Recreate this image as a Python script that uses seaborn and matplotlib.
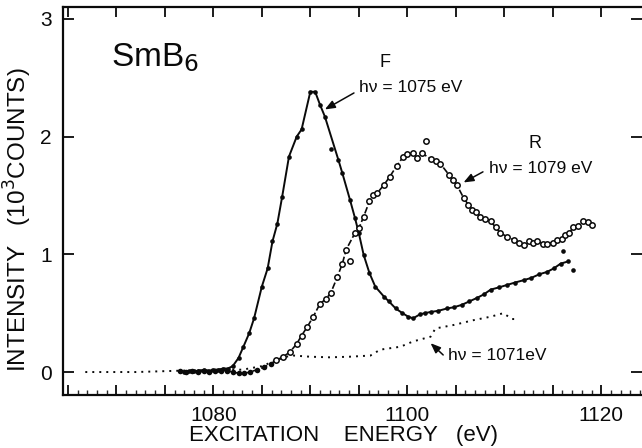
import numpy as np
import pandas as pd
import matplotlib
matplotlib.use("Agg")
import matplotlib.pyplot as plt
from matplotlib.ticker import MultipleLocator, FixedLocator, FuncFormatter
import seaborn as sns

sns.set_theme(style="ticks")
plt.rcParams["font.family"] = ["Liberation Sans", "DejaVu Sans"]

# ---- data (energy in eV, intensity in 10^3 counts) ----
F_E = [1076.6, 1077.0, 1077.5, 1078.0, 1078.5, 1079.0, 1079.5, 1080.0, 1080.5, 1081.0,
       1081.5, 1082.0, 1082.6, 1083.1, 1083.7, 1084.2, 1085.0, 1085.6, 1086.1, 1086.6,
       1087.1, 1087.8, 1088.6, 1089.1, 1090.0, 1090.5, 1091.0, 1091.5, 1092.9,
       1093.3, 1094.1, 1094.6, 1095.0, 1095.5, 1096.1, 1096.7, 1097.6, 1098.1, 1098.8,
       1099.5, 1100.1, 1100.6, 1101.3, 1101.8, 1102.4, 1103.2, 1104.1, 1104.8, 1105.6,
       1106.4, 1107.2, 1107.9, 1108.6, 1109.5, 1110.3, 1111.1, 1112.0, 1112.8, 1113.6,
       1114.4, 1115.1, 1115.8, 1116.6]
F_I = [0.01, 0.00, 0.01, 0.01, 0.01, 0.02, 0.01, 0.02, 0.02, 0.03,
       0.03, 0.05, 0.12, 0.215, 0.33, 0.456, 0.725, 0.88, 1.11, 1.26,
       1.49, 1.83, 2.00, 2.06, 2.38, 2.38, 2.27, 2.17, 1.80,
       1.69, 1.46, 1.31, 1.18, 0.995, 0.84, 0.725, 0.64, 0.60, 0.54,
       0.50, 0.47, 0.456, 0.49, 0.50, 0.51, 0.52, 0.54, 0.55, 0.57,
       0.60, 0.63, 0.66, 0.70, 0.72, 0.74, 0.76, 0.78, 0.80, 0.83,
       0.85, 0.88, 0.92, 0.94]
F_out_E = [1092.1, 1116.1, 1117.1]
F_out_I = [1.89, 1.03, 0.87]

R_E = [1076.6, 1077.2, 1077.8, 1078.4, 1079.0, 1079.6, 1080.2, 1080.8, 1081.4, 1082.0,
       1082.6, 1083.2, 1083.8, 1084.5, 1085.2, 1085.9, 1086.5, 1087.2, 1087.9, 1088.6,
       1089.1, 1089.7, 1090.3, 1091.0, 1091.6, 1092.1, 1092.8, 1093.3, 1093.7, 1094.6,
       1095.0, 1095.5, 1096.1, 1096.5, 1096.9, 1097.6, 1098.2, 1098.9, 1099.6, 1100.0,
       1100.6, 1101.0, 1101.5, 1102.4, 1103.0, 1103.4, 1104.3, 1104.7, 1105.1, 1105.8,
       1106.3, 1106.7, 1107.1, 1107.5, 1108.0, 1108.6, 1109.1, 1109.6, 1110.3, 1111.0,
       1111.5, 1112.0, 1112.5, 1113.0, 1113.4, 1114.0, 1114.4, 1115.0, 1115.4, 1115.9,
       1116.3, 1116.7, 1117.1, 1117.6, 1118.1, 1118.6, 1119.0]
R_I = [0.01, 0.00, 0.01, 0.00, 0.01, 0.00, 0.01, 0.01, 0.01, 0.00,
       -0.01, -0.01, 0.00, 0.02, 0.04, 0.07, 0.10, 0.13, 0.17, 0.24,
       0.31, 0.385, 0.47, 0.58, 0.62, 0.67, 0.81, 0.92, 1.04, 1.18,
       1.22, 1.32, 1.45, 1.50, 1.52, 1.59, 1.66, 1.75, 1.83, 1.85,
       1.86, 1.82, 1.86, 1.81, 1.79, 1.77, 1.675, 1.63, 1.59, 1.48,
       1.42, 1.38, 1.36, 1.32, 1.30, 1.28, 1.23, 1.18, 1.15, 1.12,
       1.10, 1.08, 1.11, 1.10, 1.11, 1.09, 1.09, 1.10, 1.12, 1.13,
       1.165, 1.18, 1.23, 1.24, 1.28, 1.27, 1.25]
R_out_E = [1094.1, 1101.9]
R_out_I = [0.94, 1.96]

D_E = [1066.8, 1072.0, 1076.0, 1080.0, 1083.0, 1085.0, 1086.5, 1087.5, 1088.3, 1090.0,
       1092.0, 1094.0, 1096.2, 1097.2, 1099.3, 1100.6, 1102.4, 1102.9, 1104.8, 1106.8,
       1108.6, 1109.9, 1110.8, 1111.2]
D_I = [0.00, 0.00, 0.01, 0.02, 0.02, 0.05, 0.10, 0.13, 0.14, 0.13,
       0.125, 0.13, 0.14, 0.19, 0.215, 0.26, 0.30, 0.37, 0.40, 0.44,
       0.47, 0.50, 0.45, 0.45]

x_labels = [1080, 1100, 1120]
y_labels = [0, 1, 2, 3]

F = pd.DataFrame({"E": F_E, "I": F_I})
R = pd.DataFrame({"E": R_E, "I": R_I})
D = pd.DataFrame({"E": D_E, "I": D_I})

W, H = 642, 448
fig = plt.figure(figsize=(W / 100, H / 100), dpi=100)
ax = fig.add_axes([63 / W, 1 - 395 / H, (W - 63) / W, (395 - 7) / H])

ink = "#0a0a0a"
# dotted curve hv = 1071 eV
sns.lineplot(data=D, x="E", y="I", ax=ax, color=ink, lw=1.4, sort=False,
             estimator=None, linestyle=(0, (1, 2.6)))
# F curve
sns.lineplot(data=F, x="E", y="I", ax=ax, color=ink, lw=1.4, sort=False, estimator=None)
sns.scatterplot(data=F, x="E", y="I", ax=ax, color=ink, s=11, linewidth=0, zorder=4)
ax.scatter(F_out_E, F_out_I, color=ink, s=11, linewidth=0, zorder=4)
# R curve
sns.lineplot(data=R, x="E", y="I", ax=ax, color=ink, lw=1.2, sort=False, estimator=None,
             linestyle=(0, (4, 1.5)))
base = R[R["E"] < 1086]
rest = R[R["E"] >= 1086]
sns.scatterplot(data=base, x="E", y="I", ax=ax, color=ink, s=16, linewidth=0, zorder=5)
sns.scatterplot(data=rest, x="E", y="I", ax=ax, facecolor="white", edgecolor=ink, s=15,
                linewidth=1.1, zorder=5)
ax.scatter(R_out_E, R_out_I, facecolor="white", edgecolor=ink, s=15, linewidth=1.1, zorder=5)

ax.set_xlim(1064.5, 1124.2)
ax.set_ylim(-0.195, 3.1)

# ticks
ax.xaxis.set_major_locator(MultipleLocator(5))
ax.xaxis.set_minor_locator(MultipleLocator(1))
ax.xaxis.set_major_formatter(FuncFormatter(lambda v, p: f"{int(round(v))}" if int(round(v)) in x_labels else ""))
ax.yaxis.set_major_locator(FixedLocator(y_labels))
ax.set_yticklabels([str(v) for v in y_labels])
ax.tick_params(axis="x", which="major", direction="in", length=7, width=1.3, top=True,
               pad=8, labelsize=15, colors=ink)
ax.tick_params(axis="x", which="minor", direction="in", length=3.5, width=1.0, top=False,
               bottom=True)
ax.tick_params(axis="y", which="major", direction="in", length=8, width=1.3, right=True,
               pad=8, labelsize=15, colors=ink)
for s in ["left", "bottom", "top"]:
    ax.spines[s].set_linewidth(1.6)
    ax.spines[s].set_color(ink)
ax.spines["right"].set_visible(False)

ax.set_xlabel("EXCITATION    ENERGY   (eV)", fontsize=16, color=ink)
ax.xaxis.set_label_coords(0.484, -0.077)
ax.set_ylabel("INTENSITY   (10$^3$COUNTS)", fontsize=17.5, color=ink)
ax.yaxis.set_label_coords(-0.05, 0.451)

# annotations
ax.text(1074.0, 2.67, "SmB$_6$", fontsize=24, ha="center", va="center", color=ink)
ax.text(1097.7, 2.63, "F", fontsize=13, ha="center", va="center", color=ink)
ax.text(1100.4, 2.42, "hν = 1075 eV", fontsize=12.5, ha="center", va="center", color=ink)
ax.text(1113.2, 1.94, "R", fontsize=13, ha="center", va="center", color=ink)
ax.text(1113.8, 1.73, "hν = 1079 eV", fontsize=12.5, ha="center", va="center", color=ink)
ax.text(1109.3, 0.14, "hν = 1071eV", fontsize=12.5, ha="center", va="center", color=ink)
arrow = dict(arrowstyle="-|>,head_length=0.5,head_width=0.2", color=ink, lw=1.1,
             shrinkA=0, shrinkB=0)
ax.annotate("", xy=(1091.5, 2.23), xytext=(1094.5, 2.37), arrowprops=arrow)
ax.annotate("", xy=(1105.8, 1.61), xytext=(1107.8, 1.70), arrowprops=arrow)
ax.annotate("", xy=(1102.4, 0.245), xytext=(1103.7, 0.145), arrowprops=arrow)

fig.savefig("out.png", dpi=100, facecolor="white")
